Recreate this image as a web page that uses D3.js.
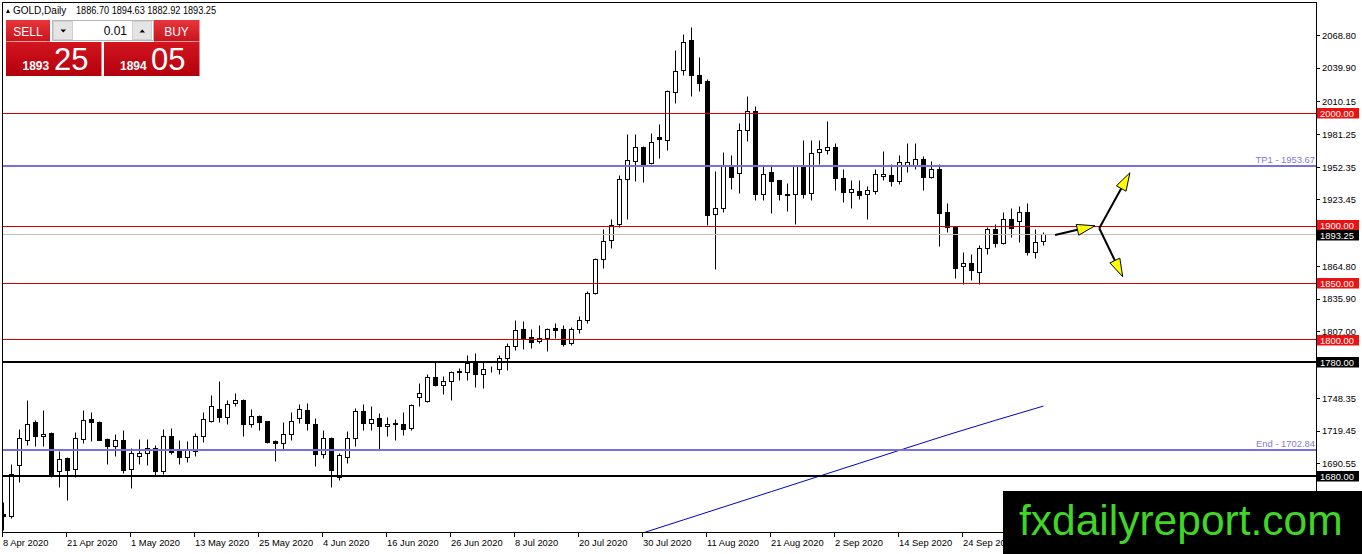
<!DOCTYPE html>
<html><head><meta charset="utf-8">
<script src="https://cdn.jsdelivr.net/npm/d3@7"></script>
<style>
html,body{margin:0;padding:0;background:#fff;overflow:hidden;}
svg{display:block;font-family:"Liberation Sans",Arial,sans-serif;}
</style></head><body>
<svg id="c" width="1362" height="554"></svg>
<script>
// ---- DATA ----
const opens = [1646,1644,1689,1711.5,1726.8,1714.4,1717.4,1683.6,1694.8,1685.6,
1712,1729.8,1727,1712,1706.2,1711.5,1685.6,1696.8,1699.8,1704,
1683.6,1715,1702.7,1696.2,1701,1714.4,1727.7,1738.6,1731.6,1744,
1746.8,1725.6,1732.7,1727.7,1710,1708.6,1716.8,1730.7,1738,1725.6,
1698.3,1713,1678.6,1696.2,1713,1737,1726.2,1730.7,1723.3,1725.5,
1725.6,1722,1749.2,1745.4,1767,1760,1763,1771.5,1771,1779.8,
1769.8,1773.9,1774,1783.5,1794.5,1808.7,1802,1798.3,1801.3,1810,
1809,1796.3,1809.3,1817,1841,1871,1887.5,1901.4,1941.7,1957.3,
1970,1955.8,1978.6,1975.8,2018.2,2037.6,2064,2033.5,2028,1911,
1916,1953.5,1947,1984.5,2002,1928.7,1947.6,1940.5,1928.5,1928,
1953.5,1929.4,1965,1967,1970,1942.6,1930,1930.8,1928.7,1930.8,
1944.6,1945.5,1939.6,1953.5,1953.5,1958.8,1943.5,1950,1912,1899.3,
1864.5,1867.5,1859.3,1880.8,1897.6,1885.2,1905.8,1904.3,1912.2,1877,
1886.70];
const highs = [1656,1689.5,1721,1746,1729,1738,1718,1701,1696,1718,
1738,1735.6,1728,1713,1716.8,1720,1704,1712,1712,1707,
1721,1722,1711.5,1710,1717,1735.6,1750.4,1763,1746.8,1753,
1747.5,1738.6,1733.5,1728,1711.5,1726.8,1735.6,1743.3,1744,1730.7,
1720.3,1714,1699.8,1719,1739.5,1743,1741.5,1734.5,1731.6,1729.8,
1735.6,1743.3,1761.6,1769.8,1779.8,1768,1772,1774.8,1785.7,1788,
1779.8,1776,1785.7,1797,1817,1816,1809,1813,1810,1814.6,
1813,1811,1820.4,1842.5,1872,1897.6,1906,1945.5,1981,1981,
1971,1982.3,1989.7,2020,2055.3,2070,2075.8,2049.4,2030,1949,
1965,1962.3,1990.6,2015,2006.4,1953.5,1952.8,1941,1937.6,1954,
1976.4,1976.4,1976.4,1992.6,1973.5,1950.6,1941,1941,1935.8,1950.6,
1966,1954.4,1962.3,1973,1973.5,1961.7,1957,1954.4,1920,1900,
1877,1875,1883.7,1899.3,1902,1912.2,1916,1918,1920.5,1897.6,
1894.63];
const lows = [1632,1642.4,1674,1707,1706,1706,1678.6,1670,1658.5,1678.6,
1708,1710,1711,1690,1696.8,1682,1669,1690,1688.6,1680.6,
1681.5,1699,1690.3,1691.5,1697,1709,1726.8,1726.8,1724.8,1741.5,
1715,1722.7,1719.7,1708,1692.4,1703.3,1711,1726,1719.7,1688,
1695.4,1669.7,1675.6,1691,1706,1719.7,1720.3,1703.3,1715,1711,
1715.9,1719.7,1740.9,1745,1759,1752,1746,1764.5,1764,1758,
1757.2,1771.5,1769.8,1772.7,1790.4,1791,1792.5,1796.3,1789.5,1801.3,
1794,1795,1805.7,1814.6,1839.6,1863,1881,1899.3,1906.4,1939.6,
1938.7,1955,1960.3,1967,2008.8,2033.5,2014.7,2019,1900.5,1862,
1912,1932.3,1929.4,1975,1923.4,1923.4,1911.7,1923.4,1913,1901.4,
1925,1922.8,1954.4,1963.2,1931.7,1921,1916,1924,1906.4,1928.7,
1941,1935.8,1936.7,1947.6,1950,1931.7,1942,1882.2,1894.6,1854.3,
1848.4,1852,1848.4,1875,1881.7,1884,1890.5,1885.7,1874,1872,
1882.92];
const closes = [1644,1681.5,1713,1725.6,1714.4,1716.8,1681.5,1694,1684.4,1713,
1728.6,1726.8,1711.5,1706,1711.5,1685,1699.2,1699.8,1704.2,1683.6,
1715,1700.4,1696.2,1702.7,1715,1729.2,1741.5,1731.6,1743,1746,
1724.8,1732.7,1726.8,1709.1,1708,1716.8,1727.7,1738.6,1726,1698.3,
1713,1685,1697.4,1713,1737,1726,1729.2,1723.3,1725.6,1725.8,
1721,1742.4,1752.8,1766.9,1760,1763,1771,1772,1779.2,1769.8,
1773.9,1774.2,1783.5,1794.5,1808,1801.3,1797.5,1801.3,1808.7,1808,
1796,1809.3,1817,1841,1871,1886.7,1900.5,1941.7,1958.2,1970,
1955.2,1973.8,1977,2019,2036.7,2062.3,2033.5,2026.7,1910,1916,
1953.5,1943.3,1984.5,2001.4,1928.7,1946.4,1939.6,1928,1927,1953.5,
1928,1964.7,1967.6,1970,1942.6,1930,1933,1927,1931.7,1946.4,
1946.4,1939.6,1956.4,1956.4,1958.8,1943.5,1950,1911.7,1899.3,1863,
1867.5,1861,1880.8,1897,1884.6,1905.8,1898.5,1912.2,1877,1885.7,
1893.25];

const dateTickIdx = [0,8,16,24,32,40,48,56,64,72,80,88,96,104,112,120];
const dateTickLabels = ["8 Apr 2020","21 Apr 2020","1 May 2020","13 May 2020","25 May 2020","4 Jun 2020",
  "16 Jun 2020","26 Jun 2020","8 Jul 2020","20 Jul 2020","30 Jul 2020","11 Aug 2020","21 Aug 2020",
  "2 Sep 2020","14 Sep 2020","24 Sep 2020"];
const priceTicks = [2068.80,2039.90,2010.15,1981.25,1952.35,1923.45,1864.80,1835.90,1807.00,1748.35,1719.45,1690.55];

const redLevels = [2000,1900,1850,1800];
const blackLevels = [1780,1680];
const targetNames = ["TP1","End"];
const targetPrices = [1953.67,1702.84];
const bidPrice = 1893.25;
const askPrice = 1894.05;
const symbolTitle = "GOLD,Daily";

const maIdx = [74,85,96,107,118,130];
const maVals = [1616,1641,1666,1691,1716,1741.5];

const arrowFromIdx = [131.44,136.97,136.97];
const arrowFromPrice = [1892.5,1898.5,1898.5];
const arrowToIdx = [136.44,140.8,139.9];
const arrowToPrice = [1900.7,1947.5,1855.7];

// ---- SCALES ----
const svg = d3.select("#c");
const plot = {l:3, t:3, r:1316, b:532};
const x = d3.scaleLinear().domain([0,130]).range([3.5,1043.5]);
const y = d3.scaleLinear().domain([2000,1680]).range([113.3,475.7]);
const cx = i => Math.floor(x(i)) + 0.5;
const cy = v => Math.floor(y(v)) + 0.5;

svg.append("rect").attr("width",1362).attr("height",554).attr("fill","#fff");
const defs = svg.append("defs");
defs.append("clipPath").attr("id","clip").append("rect")
  .attr("x",plot.l).attr("y",plot.t).attr("width",plot.r-plot.l).attr("height",plot.b-plot.t);

const g = svg.append("g").attr("clip-path","url(#clip)");

// candles
const idx = d3.range(opens.length);
const cg = g.append("g");
cg.selectAll("line.w").data(idx).join("line").attr("class","w")
  .attr("x1",cx).attr("x2",cx)
  .attr("y1",i=>cy(highs[i])).attr("y2",i=>cy(lows[i]))
  .attr("stroke","#000").attr("stroke-width",1);
cg.selectAll("rect.b").data(idx).join("rect").attr("class","b")
  .attr("x",i=>cx(i)-2).attr("width",4)
  .attr("y",i=>cy(Math.max(opens[i],closes[i])))
  .attr("height",i=>Math.max(0, cy(Math.min(opens[i],closes[i])) - cy(Math.max(opens[i],closes[i]))))
  .attr("fill",i=>closes[i]>=opens[i]?"#fff":"#000")
  .attr("stroke","#000").attr("stroke-width",1);

// moving average
g.append("path").datum(d3.range(maIdx.length))
  .attr("d", d3.line().x(k=>x(maIdx[k])).y(k=>y(maVals[k])).curve(d3.curveMonotoneX))
  .attr("fill","none").attr("stroke","#0000c8").attr("stroke-width",1);

// horizontal levels
g.selectAll("line.red").data(redLevels).join("line").attr("class","red")
  .attr("x1",plot.l).attr("x2",plot.r).attr("y1",cy).attr("y2",cy)
  .attr("stroke","#d80000").attr("stroke-width",1);
g.append("line").attr("x1",plot.l).attr("x2",plot.r).attr("y1",cy(bidPrice)).attr("y2",cy(bidPrice))
  .attr("stroke","#c0c0c0").attr("stroke-width",1);
g.selectAll("line.blk").data(blackLevels).join("line").attr("class","blk")
  .attr("x1",plot.l).attr("x2",plot.r).attr("y1",v=>Math.round(y(v))).attr("y2",v=>Math.round(y(v)))
  .attr("stroke","#000").attr("stroke-width",2);
g.selectAll("line.tgt").data(targetPrices).join("line").attr("class","tgt")
  .attr("x1",plot.l).attr("x2",plot.r).attr("y1",v=>Math.round(y(v))).attr("y2",v=>Math.round(y(v)))
  .attr("stroke","#7b6fe0").attr("stroke-width",2);
g.selectAll("text.tgt").data(targetPrices).join("text").attr("class","tgt")
  .attr("x",plot.r-1).attr("y",v=>Math.round(y(v))-3)
  .attr("text-anchor","end").attr("font-size","9.4px").attr("fill","#8378dc")
  .text((v,k)=>targetNames[k]+" - "+v.toFixed(2));

// arrows
const ag = g.append("g");
arrowFromIdx.forEach((_,k)=>{
  const x1=x(arrowFromIdx[k]), y1=y(arrowFromPrice[k]), x2=x(arrowToIdx[k]), y2=y(arrowToPrice[k]);
  const dx=x2-x1, dy=y2-y1, L=Math.hypot(dx,dy), ux=dx/L, uy=dy/L;
  const hl=18, hw=5.5;
  const bx=x2-ux*hl, by=y2-uy*hl;
  ag.append("line").attr("x1",x1).attr("y1",y1).attr("x2",bx).attr("y2",by)
    .attr("stroke","#000").attr("stroke-width",2);
  ag.append("polygon")
    .attr("points",[[x2,y2],[bx-uy*hw,by+ux*hw],[bx+uy*hw,by-ux*hw]].map(p=>p.join(",")).join(" "))
    .attr("fill","#ffff00").attr("stroke","#000").attr("stroke-width",1).attr("stroke-linejoin","miter");
});

// frame
svg.append("rect").attr("x",2.5).attr("y",2.5).attr("width",1314).attr("height",530)
  .attr("fill","none").attr("stroke","#000").attr("stroke-width",1);

// right axis ticks
const ax = svg.append("g").attr("font-size","9.4px").attr("fill","#000");
priceTicks.forEach(v=>{
  ax.append("line").attr("x1",1317).attr("x2",1320).attr("y1",cy(v)).attr("y2",cy(v)).attr("stroke","#000");
  ax.append("text").attr("x",1322).attr("y",y(v)+3.3).text(v.toFixed(2));
});

// level label boxes (with simple overlap avoidance)
const boxH = 10;
const boxes = redLevels.map(v=>({v,bg:"#ee1111"}))
  .concat(blackLevels.map(v=>({v,bg:"#000"})))
  .concat([{v:bidPrice,bg:"#000"}])
  .map(b=>Object.assign(b,{c:y(b.v)}))
  .sort((a,b)=>a.c-b.c);
for(let k=1;k<boxes.length;k++){
  const gap = boxes[k].c - boxes[k-1].c;
  if(gap < boxH){ const push=(boxH-gap)/2; boxes[k-1].c-=push; boxes[k].c+=push; }
}
boxes.forEach(b=>{
  const top = Math.round(b.c - boxH/2);
  svg.append("rect").attr("x",1317).attr("y",top).attr("width",42).attr("height",boxH+0.5).attr("fill",b.bg);
  svg.append("text").attr("x",1320).attr("y",top+8.6).attr("font-size","9.4px").attr("fill","#fff").text(b.v.toFixed(2));
});

// date axis
const dx_ = svg.append("g").attr("font-size","9.4px").attr("fill","#000");
dateTickIdx.forEach((i,k)=>{
  dx_.append("line").attr("x1",cx(i)-1).attr("x2",cx(i)-1).attr("y1",533).attr("y2",537).attr("stroke","#000");
  dx_.append("text").attr("x",x(i)-0.5).attr("y",546).text(dateTickLabels[k]);
});

// title
svg.append("path").attr("d","M6,13 L10,13 L8,9 Z").attr("fill","#000");
svg.append("text").attr("x",13).attr("y",13.5).attr("font-size","10px").text(symbolTitle);
svg.append("text").attr("x",76).attr("y",13.5).attr("font-size","10px")
  .attr("textLength",140).attr("lengthAdjust","spacingAndGlyphs")
  .text([opens[130],highs[130],lows[130],closes[130]].map(v=>v.toFixed(2)).join(" "));

// trade panel
const gr1 = defs.append("linearGradient").attr("id","hdr").attr("x1",0).attr("y1",0).attr("x2",0).attr("y2",1);
gr1.append("stop").attr("offset","0").attr("stop-color","#e8353b");
gr1.append("stop").attr("offset","1").attr("stop-color","#c9141d");
const gr2 = defs.append("linearGradient").attr("id","box").attr("x1",0).attr("y1",0).attr("x2",0).attr("y2",1);
gr2.append("stop").attr("offset","0").attr("stop-color","#d2151f");
gr2.append("stop").attr("offset","1").attr("stop-color","#b3000d");
const p = svg.append("g");
p.append("rect").attr("x",6).attr("y",20).attr("width",44).attr("height",21.5).attr("fill","url(#hdr)");
p.append("rect").attr("x",154).attr("y",20).attr("width",45.5).attr("height",21.5).attr("fill","url(#hdr)");
p.append("line").attr("x1",9).attr("x2",47).attr("y1",41.5).attr("y2",41.5).attr("stroke","#f3a0a0");
p.append("line").attr("x1",157).attr("x2",196).attr("y1",41.5).attr("y2",41.5).attr("stroke","#f3a0a0");
p.append("rect").attr("x",6).attr("y",42).attr("width",95.5).attr("height",34).attr("fill","url(#box)");
p.append("rect").attr("x",104).attr("y",42).attr("width",95.5).attr("height",34).attr("fill","url(#box)");
p.append("text").attr("x",28).attr("y",35.5).attr("text-anchor","middle").attr("font-size","12px").attr("fill","#fff").text("SELL");
p.append("text").attr("x",176.5).attr("y",35.5).attr("text-anchor","middle").attr("font-size","12px").attr("fill","#fff").text("BUY");
p.append("rect").attr("x",52.5).attr("y",20.5).attr("width",101).attr("height",20).attr("fill","#fff").attr("stroke","#b8b8b8");
p.append("rect").attr("x",53.5).attr("y",21.5).attr("width",19).attr("height",18).attr("fill","#e4e4e4").attr("stroke","#cfcfcf");
p.append("rect").attr("x",132.5).attr("y",21.5).attr("width",19).attr("height",18).attr("fill","#e4e4e4").attr("stroke","#cfcfcf");
p.append("path").attr("d","M60.5,29.5 L66,29.5 L63.25,32.5 Z").attr("fill","#000");
p.append("path").attr("d","M139.5,32.5 L145,32.5 L142.25,29.5 Z").attr("fill","#000");
p.append("text").attr("x",127).attr("y",35).attr("text-anchor","end").attr("font-size","12px").attr("fill","#000").text("0.01");
const bidStr = bidPrice.toFixed(2).split("."), askStr = askPrice.toFixed(2).split(".");
p.append("text").attr("x",22.5).attr("y",70).attr("font-size","12px").attr("font-weight","bold").attr("fill","#fff").text(bidStr[0]);
p.append("text").attr("x",54).attr("y",70).attr("font-size","31px").attr("fill","#fff").text(bidStr[1]);
p.append("text").attr("x",120).attr("y",70).attr("font-size","12px").attr("font-weight","bold").attr("fill","#fff").text(askStr[0]);
p.append("text").attr("x",151).attr("y",70).attr("font-size","31px").attr("fill","#fff").text(askStr[1]);

// watermark
svg.append("rect").attr("x",1003).attr("y",491).attr("width",359).attr("height",63).attr("fill","#000");
svg.append("text").attr("x",1019).attr("y",535).attr("font-size","42.5px").attr("fill","#3fd626").text("fxdailyreport.com");
</script>
</body></html>
